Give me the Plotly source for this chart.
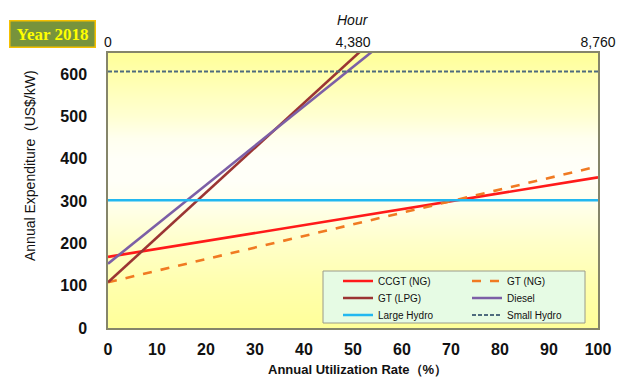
import plotly.graph_objects as go

# Annual utilization rate (%) at the two ends of each cost line
util_rate = [0, 100]

# Annual expenditure (US$/kW) at 0 % and 100 % utilization
ccgt_ng = [168, 356]
gt_ng = [108, 382]
gt_lpg = [108, 1168]
diesel = [152, 1082]
large_hydro = [302, 302]
small_hydro = [606, 606]

hour_ticks = [0, 4380, 8760]
hour_labels = ["0", "4,380", "8,760"]

# background band levels (US$/kW) and their tint: yellow - white - yellow
bg_levels = [0, 100, 200, 300, 350, 400, 450, 500, 600, 650]
bg_tint = [0.0, 0.2, 0.5, 0.9, 1.0, 1.0, 0.9, 0.6, 0.2, 0.0]

FONT = "Liberation Sans, Arial, sans-serif"

fig = go.Figure()

# plot-area gradient
fig.add_trace(go.Heatmap(
    x=[0, 100], y=bg_levels, z=[[t, t] for t in bg_tint],
    colorscale=[[0, "#FFFF99"], [1, "#FFFFF8"]], zmin=0, zmax=1,
    zsmooth="best", showscale=False, hoverinfo="skip", showlegend=False,
))

# name, values, colour, dash, width, legend column, legend row
series = [
    ("CCGT (NG)", ccgt_ng, "#FF1A1A", "solid", 2.6, 0, 0),
    ("GT (NG)", gt_ng, "#F07A22", "dash", 2.6, 1, 0),
    ("GT (LPG)", gt_lpg, "#9B3533", "solid", 2.6, 0, 1),
    ("Diesel", diesel, "#7C5FA6", "solid", 2.6, 1, 1),
    ("Large Hydro", large_hydro, "#22B8F0", "solid", 2.6, 0, 2),
    ("Small Hydro", small_hydro, "#4E6B7E", "4px,2px", 2, 1, 2),
]

# plot area in pixels (used to place the legend entries)
PL, PR, PT, PB = 108, 598, 53, 328
col_px = [338, 467]
row_px = [281, 298, 315]

legends = {}
for i, (name, vals, color, dash, width, col, row) in enumerate(series):
    key = "legend" if i == 0 else f"legend{i + 1}"
    fig.add_trace(go.Scatter(
        x=util_rate, y=vals, name=name, mode="lines",
        line=dict(color=color, width=width, dash=dash),
        legend=key,
    ))
    legends[key] = dict(
        x=(col_px[col] - PL) / (PR - PL), y=(PB - row_px[row]) / (PB - PT),
        xanchor="left", yanchor="middle",
        bgcolor="rgba(0,0,0,0)", borderwidth=0,
        font=dict(size=10, family=FONT),
    )

# invisible trace that carries the hour axis
fig.add_trace(go.Scatter(x=hour_ticks, y=[None] * 3, xaxis="x2",
                         showlegend=False, hoverinfo="skip"))

fig.update_layout(
    width=617, height=378,
    margin=dict(l=PL, r=617 - PR, t=PT, b=378 - PB),
    paper_bgcolor="white",
    plot_bgcolor="#FFFF99",
    font=dict(family=FONT, color="#111"),
    xaxis=dict(
        range=[0, 100], dtick=10, showgrid=True, gridcolor="#B4B49C", gridwidth=1,
        showline=True, mirror=True, linecolor="#85856A", linewidth=1.5,
        tickfont=dict(size=16, family=FONT, weight="bold"),
        ticklabelstandoff=6, zeroline=False, automargin=False,
    ),
    xaxis2=dict(
        range=[0, 8760], overlaying="x", side="top",
        tickvals=hour_ticks, ticktext=hour_labels, showgrid=False,
        tickfont=dict(size=14, family=FONT), zeroline=False,
        ticklabelstandoff=2, automargin=False,
    ),
    yaxis=dict(
        range=[0, 650], dtick=100, showgrid=True, gridcolor="#B4B49C", gridwidth=1,
        showline=True, mirror=True, linecolor="#85856A", linewidth=1.5,
        tickfont=dict(size=16, family=FONT, weight="bold"),
        ticklabelstandoff=16, zeroline=False, automargin=False,
    ),
    shapes=[
        # legend frame
        dict(type="rect", xref="paper", yref="paper",
             x0=(323 - PL) / (PR - PL), x1=(585 - PL) / (PR - PL),
             y0=(PB - 323) / (PB - PT), y1=(PB - 271) / (PB - PT),
             fillcolor="#E6FBE4", line=dict(color="#9A9A8A", width=1), layer="above"),
    ],
    annotations=[
        dict(text="<b>Year 2018</b>", xref="paper", yref="paper",
             x=(52 - PL) / (PR - PL), y=(PB - 34) / (PB - PT),
             xanchor="center", yanchor="middle", width=80, height=21, align="center",
             showarrow=False, font=dict(family="Liberation Serif, Times New Roman, serif",
                                        size=17, color="#FFFF00"),
             bgcolor="#77933C", bordercolor="#F5C000", borderwidth=1.5, borderpad=2),
        dict(text="Hour", xref="paper", yref="paper", x=0.5, y=(PB - 20) / (PB - PT),
             xanchor="center", yanchor="middle", showarrow=False,
             font=dict(size=14, style="italic", family=FONT)),
        dict(text="Annual Utilization Rate（%）", xref="paper", yref="paper",
             x=0.51, y=(PB - 369) / (PB - PT), xanchor="center", yanchor="middle",
             showarrow=False, font=dict(size=13, weight="bold", family=FONT)),
        dict(text="Annual Expenditure  (US$/kW)", xref="paper", yref="paper",
             x=(30 - PL) / (PR - PL), y=(PB - 166) / (PB - PT),
             xanchor="center", yanchor="middle",
             textangle=-90, showarrow=False, font=dict(size=14, family=FONT)),
    ],
    **legends,
)

fig.write_html("out.html")
